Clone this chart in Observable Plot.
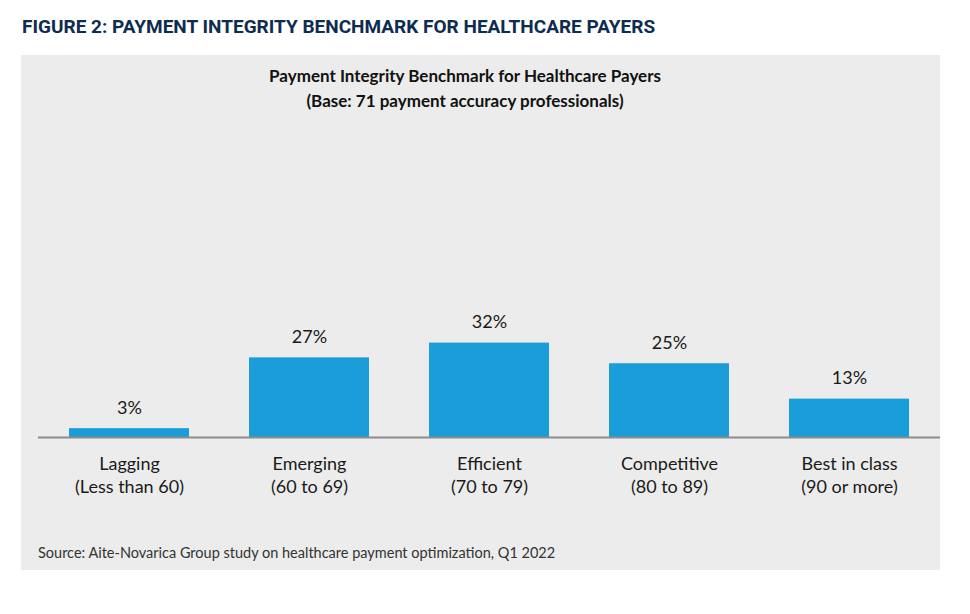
<!DOCTYPE html>
<html>
<head>
<meta charset="utf-8">
<script src="https://cdn.jsdelivr.net/npm/d3@7"></script>
<script src="https://cdn.jsdelivr.net/npm/@observablehq/plot@0.6"></script>
<style>
  html, body { margin: 0; padding: 0; background: #fff; }
  #page { position: relative; width: 970px; height: 614px; background: #fff; overflow: hidden; }
  #fig { position: absolute; left: 22px; top: 15px; font: 700 19px Roboto, sans-serif; color: #0e2c50; white-space: nowrap; }
  #panel { position: absolute; left: 21px; top: 55px; width: 919px; height: 515px; background: #ebeceb; }
  #ttl { position: absolute; left: 0; top: 8px; width: 888px; text-align: center; font: 700 17px Lato, sans-serif; line-height: 25px; color: #111; }
  #chart { position: absolute; left: 0; top: 65px; }
  #src { position: absolute; left: 17px; top: 490px; font: 14.5px Lato, sans-serif; line-height: 16px; color: #333; white-space: nowrap; }
</style>
</head>
<body>
<div id="page">
  <div id="fig">FIGURE 2: PAYMENT INTEGRITY BENCHMARK FOR HEALTHCARE PAYERS</div>
  <div id="panel">
    <div id="ttl">Payment Integrity Benchmark for Healthcare Payers<br>(Base: 71 payment accuracy professionals)</div>
    <div id="chart"></div>
    <div id="src">Source: Aite-Novarica Group study on healthcare payment optimization, Q1 2022</div>
  </div>
</div>
<script>
const categories = ["Lagging", "Emerging", "Efficient", "Competitive", "Best in class"];
const ranges = ["(Less than 60)", "(60 to 69)", "(70 to 79)", "(80 to 89)", "(90 or more)"];
const values = [3, 27, 32, 25, 13];

const data = categories.map((c, i) => ({category: c, value: values[i]}));

const chart = Plot.plot({
  width: 919,
  height: 390,
  marginLeft: 17,
  marginRight: 0,
  marginTop: 22,
  marginBottom: 73,
  style: {fontFamily: "Lato, sans-serif", background: "transparent", color: "#1a1a1a"},
  x: {domain: categories, paddingInner: 0.335, paddingOuter: 0.1675, label: null},
  y: {domain: [0, 100], axis: null},
  marks: [
    Plot.barY(data, {x: "category", y: "value", fill: "#1b9dd9"}),
    Plot.ruleY([0], {stroke: "#8c8c8c", strokeWidth: 2}),
    Plot.text(data, {x: "category", y: "value", text: d => d.value + "%", lineAnchor: "bottom", dy: -15, fontSize: 18, fill: "#1a1a1a"}),
    Plot.axisX({tickSize: 0, tickPadding: 16, fontSize: 18, lineHeight: 1.28, label: null,
      tickFormat: d => d + "\n" + ranges[categories.indexOf(d)]})
  ]
});
document.getElementById("chart").appendChild(chart);
</script>
</body>
</html>
